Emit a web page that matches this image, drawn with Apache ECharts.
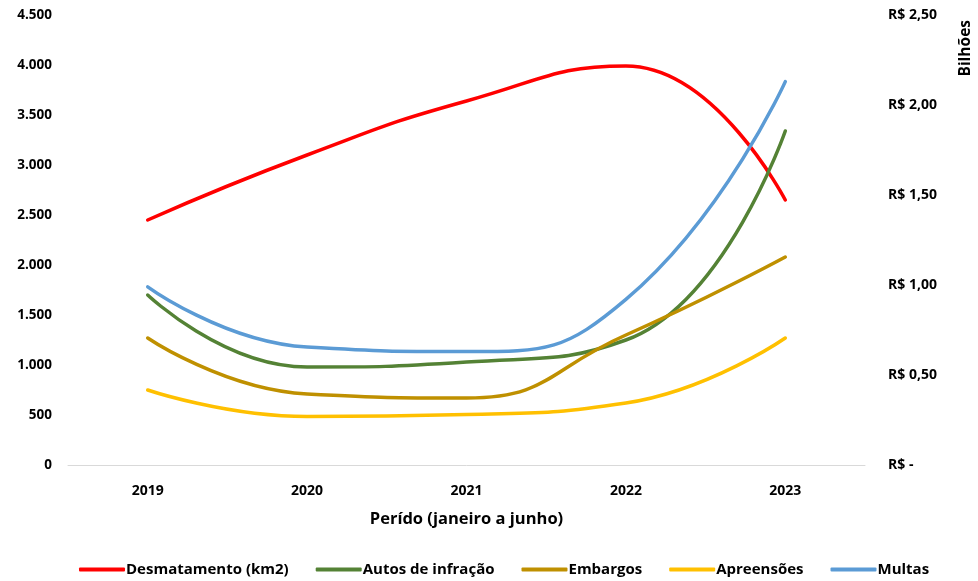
<!DOCTYPE html>
<html><head><meta charset="utf-8">
<script src="https://cdn.jsdelivr.net/npm/echarts@6/dist/echarts.min.js"></script>
<style>html,body{margin:0;padding:0;background:#fff}#c{width:978px;height:581px}</style>
</head><body><div id="c"></div>
<script>
const categories = ['2019','2020','2021','2022','2023'];
const desmatamento = [2450, 3100, 3640, 3990, 2650];
const autos = [1700, 980, 1030, 1250, 3340];
const embargos = [1270, 710, 670, 1300, 2080];
const apreensoes = [750, 485, 505, 620, 1270];
const multas = [0.99, 0.655, 0.63, 0.92, 2.13];
const leftTicks = {min: 0, max: 4500, interval: 500};
const rightTicks = {min: 0, max: 2.5, interval: 0.5};

const font = '"Open Sans", "Liberation Sans", sans-serif';
const chart = echarts.init(document.getElementById('c'));
function fmtLeft(v){ return v === 0 ? '0' : v.toLocaleString('de-DE'); }
function fmtRight(v){ return v === 0 ? 'R$ -' : 'R$ ' + v.toFixed(2).replace('.', ','); }
const lw = 3.5;
const sm = 0.5;
chart.setOption({
  animation: false,
  textStyle: {fontFamily: font},
  grid: {left: 68, right: 113, top: 15, bottom: 116},
  legend: {
    bottom: -1, left: 74, itemWidth: 46, itemHeight: 4, itemGap: 27,
    icon: 'roundRect',
    textStyle: {fontFamily: font, fontSize: 15, fontWeight: 'bold', color: '#000', padding: [0,0,0,-4]},
    data: ['Desmatamento (km2)','Autos de infração','Embargos','Apreensões','Multas']
  },
  xAxis: {
    type: 'category', data: categories, boundaryGap: true,
    name: 'Perído (janeiro a junho)', nameLocation: 'middle', nameGap: 46,
    nameTextStyle: {fontFamily: font, fontSize: 16.5, fontWeight: 'bold', color: '#000'},
    axisLine: {lineStyle: {color: '#d9d9d9', width: 1}},
    axisTick: {show: false},
    axisLabel: {fontFamily: font, fontSize: 14, fontWeight: 'bold', color: '#000', margin: 19}
  },
  yAxis: [
    {type: 'value', min: leftTicks.min, max: leftTicks.max, interval: leftTicks.interval,
     splitLine: {show: false}, axisLine: {show: false}, axisTick: {show: false},
     axisLabel: {fontFamily: font, fontSize: 13.5, fontWeight: 'bold', color: '#000', margin: 16, formatter: fmtLeft}},
    {type: 'value', min: rightTicks.min, max: rightTicks.max, interval: rightTicks.interval,
     splitLine: {show: false}, axisLine: {show: false}, axisTick: {show: false},
     axisLabel: {fontFamily: font, fontSize: 14, fontWeight: 'bold', color: '#000', margin: 23, formatter: fmtRight}}
  ],
  graphic: [{
    type: 'text', left: 958, top: 20, rotation: Math.PI/2,
    style: {text: 'Bilhões', font: 'bold 15.5px ' + font, fill: '#000'}
  }],
  series: [
    {name: 'Desmatamento (km2)', type: 'line', data: desmatamento, smooth: sm, symbol: 'none', color: '#FF0000', lineStyle: {width: lw, cap: 'round'}},
    {name: 'Autos de infração', type: 'line', data: autos, smooth: sm, symbol: 'none', color: '#548235', lineStyle: {width: lw, cap: 'round'}},
    {name: 'Embargos', type: 'line', data: embargos, smooth: sm, symbol: 'none', color: '#BF9000', lineStyle: {width: lw, cap: 'round'}},
    {name: 'Apreensões', type: 'line', data: apreensoes, smooth: sm, symbol: 'none', color: '#FFC000', lineStyle: {width: lw, cap: 'round'}},
    {name: 'Multas', type: 'line', yAxisIndex: 1, data: multas, smooth: sm, symbol: 'none', color: '#5B9BD5', lineStyle: {width: lw, cap: 'round'}}
  ]
});
</script></body></html>
